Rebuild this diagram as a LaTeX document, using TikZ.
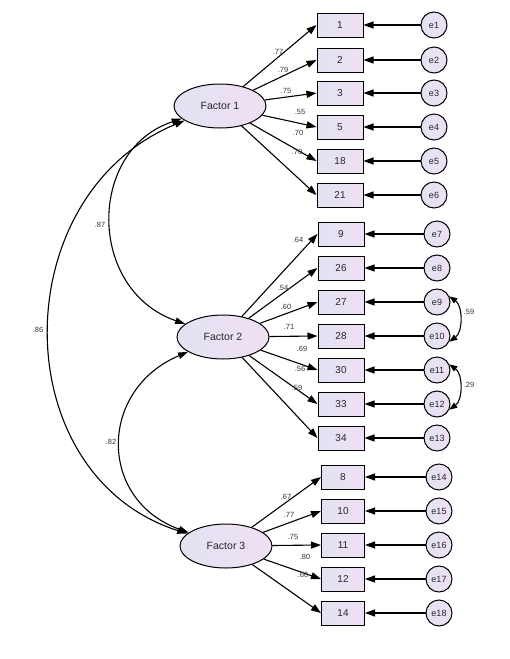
\documentclass[tikz,border=0pt]{standalone}
\usepackage{fontspec}
\setmainfont{Liberation Sans}
\usetikzlibrary{arrows.meta,shapes.geometric}
\definecolor{lavL}{RGB}{226,226,242}
\definecolor{lavR}{RGB}{240,224,244}
\tikzset{
  lat/.style={ellipse,draw,line width=1pt,minimum width=92pt,minimum height=44pt,inner sep=0pt,left color=lavL,right color=lavR,font=\fontsize{10.5}{10}\selectfont,text=black!85},
  obs/.style={rectangle,draw,line width=1pt,minimum width=46pt,minimum height=24pt,inner sep=0pt,left color=lavL,right color=lavR,font=\fontsize{10}{10}\selectfont,text=black!85},
  obsn/.style={obs,minimum width=43pt},
  err/.style={circle,draw,line width=1pt,minimum size=26pt,inner sep=0pt,left color=lavL,right color=lavR,font=\fontsize{9}{9}\selectfont,text=black!85},
  arr/.style={-{Triangle[length=10pt,width=7pt]},line width=1.1pt},
  darr/.style={{Triangle[length=10pt,width=6.5pt]}-{Triangle[length=10pt,width=6.5pt]},line width=1.1pt},
  earr/.style={{Triangle[length=8pt,width=6pt]}-{Triangle[length=8pt,width=6pt]},line width=1.1pt},
  lab/.style={font=\fontsize{7.5}{7}\selectfont,text=black!80,inner sep=0pt},
}
\begin{document}
\begin{tikzpicture}[x=1pt,y=-1pt]
\useasboundingbox (0,0) rectangle (510,659);
% latent factors
\node[lat] (f1) at (220,106) {Factor 1};
\node[lat] (f2) at (223,337) {Factor 2};
\node[lat] (f3) at (226,546) {Factor 3};
% factor 1 items
\foreach \n/\lbl/\y/\e in {b1/1/25/e1, b2/2/60/e2, b3/3/93/e3, b5/5/127/e4, b18/18/161/e5, b21/21/195/e6}{
  \node[obs] (\n) at (340,\y) {\lbl};
  \node[err] (\e) at (434,\y) {\e};
  \draw[arr] (\e) -- (\n);
  \draw[arr] (f1) -- (\n.west);
}
% factor 2 items
\foreach \n/\lbl/\y/\e in {b9/9/234/e7, b26/26/268/e8, b27/27/302/e9, b28/28/336/e10, b30/30/370/e11, b33/33/404/e12, b34/34/438/e13}{
  \node[obs] (\n) at (341,\y) {\lbl};
  \node[err] (\e) at (437,\y) {\e};
  \draw[arr] (\e) -- (\n);
  \draw[arr] (f2) -- (\n.west);
}
% factor 3 items
\foreach \n/\lbl/\y/\e in {b8/8/477/e14, b10/10/511/e15, b11/11/545/e16, b12/12/579/e17, b14/14/613/e18}{
  \node[obsn] (\n) at (343,\y) {\lbl};
  \node[err] (\e) at (439,\y) {\e};
  \draw[arr] (\e) -- (\n);
  \draw[arr] (f3) -- (\n.west);
}
% loadings
\node[lab] (l1) at (278,52) {.77};
\node[lab] (l2) at (283,70) {.79};
\node[lab] (l3) at (286,91) {.75};
\node[lab] (l5) at (300,112) {.55};
\node[lab] (l18) at (298,133) {.70};
\node[lab] (l21) at (297,152) {.70};
\node[lab] (l9) at (298,240) {.64};
\node[lab] (l26) at (283,288) {.54};
\node[lab] (l27) at (286,307) {.60};
\node[lab] (l28) at (289,327) {.71};
\node[lab] (l30) at (302,349) {.69};
\node[lab] (l33) at (300,369) {.56};
\node[lab] (l34) at (297,388) {.59};
\node[lab] (l8) at (286,497) {.67};
\node[lab] (l10) at (289,515) {.77};
\node[lab] (l11) at (293,537) {.75};
\node[lab] (l12) at (305,557) {.80};
\node[lab] (l14) at (303,575) {.66};
% factor correlations
\draw[darr] (f1) .. controls (4,195) and (4,475) .. (f3);
\draw[darr] (f1) .. controls (87,150) and (87,290) .. (f2);
\draw[darr] (f2) .. controls (98,390) and (98,500) .. (f3);
\node[lab] (c13) at (38,330) {.86};
\node[lab] (c12) at (100,225) {.87};
\node[lab] (c23) at (111,442) {.82};
% error covariances
\draw[earr] (e9.25) .. controls (463,306) and (463,332) .. (e10.-25);
\draw[earr] (e11.25) .. controls (463,374) and (463,400) .. (e12.-25);
\node[lab] (c910) at (469,312) {.59};
\node[lab] (c1112) at (469,385) {.29};
\end{tikzpicture}
\end{document}
